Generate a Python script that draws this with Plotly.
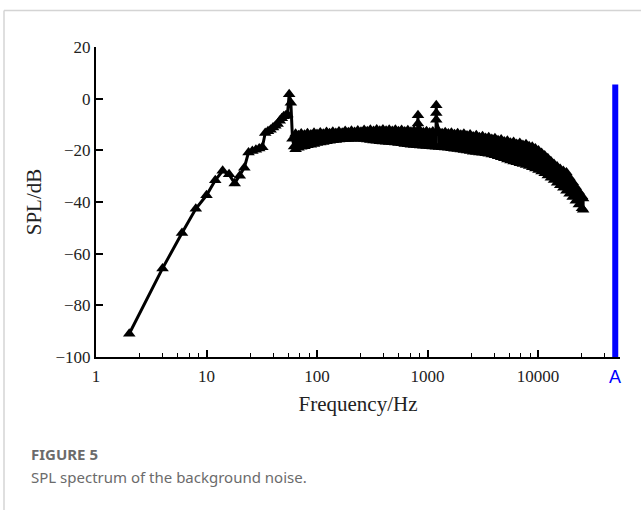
import plotly.graph_objects as go

# ---- data -------------------------------------------------------------
# low-frequency bins (Hz) and their sound pressure level (dB)
low_freq = [2, 4, 6, 8, 10, 12, 14, 16, 18, 20, 22, 24, 26, 28, 30, 32, 34, 36,
            38, 40, 42, 44, 46, 48, 50, 52, 54, 56, 58, 60, 62]
low_spl = [-91.0, -65.7, -52.0, -42.6, -37.4, -31.6, -27.9, -29.3, -32.8, -29.8,
           -26.7, -20.8, -20.3, -19.8, -19.3, -18.8, -13.3, -12.6, -12.0, -11.2,
           -10.5, -9.8, -8.5, -7.6, -6.8, -6.5, -6.1, 1.7, -1.6, -15.5, -18.5]

# broadband part: upper and lower level of the noise floor per frequency
band_freq = [64, 68, 72, 77, 82, 88, 94, 100, 107, 114, 122, 130, 139, 148, 158,
             169, 180, 192, 205, 219, 234, 250, 267, 285, 304, 325, 347, 370, 395,
             422, 450, 480, 512, 546, 583, 622, 664, 708, 756, 806, 860, 918, 980,
             1046, 1116, 1190, 1270, 1356, 1446, 1544, 1646, 1756, 1874, 2000, 2134,
             2276, 2428, 2590, 2764, 2948, 3146, 3356, 3580, 3820, 4076, 4348, 4640,
             4950, 5282, 5636, 6012, 6414, 6844, 7302, 7790, 8312, 8868, 9462, 10094,
             10770, 11490, 12260, 13080, 13956, 14890, 15886, 16950, 18084, 19294,
             20586, 21964, 23434, 25000, 25600]
band_upper = [-13.6, -14.2, -13.5, -14.0, -13.4, -13.9, -13.2, -13.7, -13.1, -13.6,
              -12.9, -13.4, -12.8, -13.3, -12.7, -13.2, -12.5, -13.0, -12.4, -12.9,
              -12.3, -12.8, -12.1, -12.6, -12.0, -12.5, -11.9, -12.4, -11.9, -12.4,
              -12.0, -12.5, -12.0, -12.6, -12.1, -12.7, -12.2, -12.8, -12.3, -12.9,
              -12.4, -13.0, -12.6, -13.1, -12.7, -13.2, -12.8, -13.4, -13.0, -13.5,
              -13.2, -13.8, -13.4, -14.0, -13.6, -14.3, -13.9, -14.6, -14.2, -14.9,
              -14.5, -15.2, -14.9, -15.6, -15.3, -16.1, -15.8, -16.6, -16.3, -17.1,
              -16.8, -17.5, -17.2, -17.9, -17.6, -18.4, -18.6, -19.3, -20.1, -21.0,
              -22.0, -23.1, -24.2, -25.3, -26.3, -27.2, -28.0, -28.6, -30.6, -32.4,
              -34.2, -36.0, -37.8, -38.6]
band_lower = [-19.6, -19.0, -18.6, -18.4, -18.0, -17.8, -17.5, -17.2, -17.0, -16.8,
              -16.5, -16.3, -16.1, -16.0, -15.8, -15.7, -15.6, -15.6, -15.5, -15.5,
              -15.4, -15.5, -15.6, -15.8, -16.0, -16.2, -16.3, -16.5, -16.6, -16.7,
              -16.8, -16.9, -17.0, -17.2, -17.3, -17.5, -17.6, -17.8, -17.9, -18.0,
              -18.1, -18.2, -18.3, -18.4, -18.5, -18.6, -18.7, -18.8, -18.9, -19.0,
              -19.2, -19.4, -19.5, -19.7, -19.9, -20.1, -20.3, -20.5, -20.6, -20.8,
              -20.9, -21.1, -21.3, -21.6, -21.9, -22.3, -22.7, -23.1, -23.5, -23.9,
              -24.3, -24.6, -25.0, -25.3, -25.7, -26.1, -26.5, -27.0, -27.6, -28.2,
              -28.9, -29.7, -30.6, -31.5, -32.5, -33.5, -34.5, -35.6, -36.8, -38.1,
              -39.5, -41.0, -42.4, -43.0]

# tonal components standing out of the noise floor
tone_freq = [820, 820, 1200, 1200, 1200]
tone_spl = [-6.4, -9.6, -2.5, -5.5, -8.2]

# overall A-weighted level, drawn as a bar at the right end of the axis
total_label = "A"
total_level = 5.5
total_pos = 50000

major_ticks = [1, 10, 100, 1000, 10000]
major_labels = ["1", "10", "100", "1000", "10000"]
minor_ticks = [2.5, 4, 5.5, 7, 8.5, 25, 40, 55, 70, 85, 250, 400, 550, 700, 850,
               2500, 4000, 5500, 7000, 8500, 25000, 40000]
y_ticks = [-100, -80, -60, -40, -20, 0, 20]
y_labels = ["\u2212100", "\u221280", "\u221260", "\u221240", "\u221220", "0", "20"]

# ---- assemble the spectrum in frequency order --------------------------
freq, spl = list(low_freq), list(low_spl)
points = []
for f, u, lo in zip(band_freq, band_upper, band_lower):
    points.append((f, 0, u))
    points.append((f, 1, lo))
for i, (f, s) in enumerate(zip(tone_freq, tone_spl)):
    points.append((f, 2 + i, s))
points.sort(key=lambda p: (p[0], p[1]))
freq += [p[0] for p in points]
spl += [p[2] for p in points]

# ---- figure geometry (pixels) ------------------------------------------
W, H = 641, 510
L, R, T, B = 96, 620, 47, 357


def px(x):
    return (x - L) / (R - L)


def py(y):
    return (B - y) / (B - T)


serif = "Liberation Serif, Times New Roman, serif"
sans = "Noto Sans, Open Sans, sans-serif"

fig = go.Figure()
fig.add_trace(go.Scatter(
    x=freq, y=spl, mode="lines+markers",
    line=dict(color="black", width=3),
    marker=dict(symbol="triangle-up", size=11, color="black"),
    showlegend=False, hoverinfo="x+y",
))
fig.add_trace(go.Scatter(
    x=[total_pos, total_pos], y=[-100, total_level], mode="lines",
    line=dict(color="#0000ff", width=6),
    showlegend=False, hoverinfo="y",
))

fig.update_layout(
    width=W, height=H,
    margin=dict(l=L, r=W - R, t=T, b=H - B),
    paper_bgcolor="white", plot_bgcolor="white",
    xaxis=dict(
        type="log", range=[0, 4.742],
        showline=True, linecolor="black", linewidth=2,
        ticks="inside", ticklen=7, tickwidth=1.5, tickcolor="black",
        tickvals=major_ticks, ticktext=major_labels,
        ticklabelstandoff=3,
        minor=dict(tickmode="array", tickvals=minor_ticks, ticks="inside",
                   ticklen=4, tickwidth=1.2, tickcolor="black", showgrid=False),
        showgrid=False, zeroline=False,
        tickfont=dict(family=serif, size=17, color="#222"),
        title=dict(text="Frequency/Hz", font=dict(family=serif, size=21, color="#222"),
                   standoff=11),
    ),
    yaxis=dict(
        range=[-100, 20],
        showline=True, linecolor="black", linewidth=2,
        ticks="inside", ticklen=7, tickwidth=1.5, tickcolor="black",
        tickvals=y_ticks, ticktext=y_labels,
        showgrid=False, zeroline=False,
        tickfont=dict(family=serif, size=17, color="#222"),
        title=dict(text="SPL/dB", font=dict(family=serif, size=21, color="#222"),
                   standoff=8),
    ),
)

# label of the overall level bar
fig.add_annotation(x=4.699, xref="x", y=py(377), yref="paper",
                   text=total_label, showarrow=False,
                   font=dict(family="Liberation Sans, Arial, sans-serif", size=18,
                             color="#0000ff"),
                   xanchor="center", yanchor="middle")

# caption
fig.add_annotation(x=px(29), y=py(454), xref="paper", yref="paper",
                   text="<b>FIGURE 5</b>", showarrow=False,
                   font=dict(family=sans, size=15, color="#6b6b6b"),
                   xanchor="left", yanchor="middle")
fig.add_annotation(x=px(29), y=py(477), xref="paper", yref="paper",
                   text="SPL spectrum of the background noise.", showarrow=False,
                   font=dict(family=sans, size=15, color="#6b6b6b"),
                   xanchor="left", yanchor="middle")

# card frame around the figure
fig.add_shape(type="line", xref="paper", yref="paper",
              x0=px(4), x1=px(W + 2), y0=py(10.5), y1=py(10.5),
              line=dict(color="#d4d4d4", width=1.5))
fig.add_shape(type="line", xref="paper", yref="paper",
              x0=px(4), x1=px(4), y0=py(10.5), y1=py(H + 2),
              line=dict(color="#d4d4d4", width=1.5))

fig.write_html("out.html")
